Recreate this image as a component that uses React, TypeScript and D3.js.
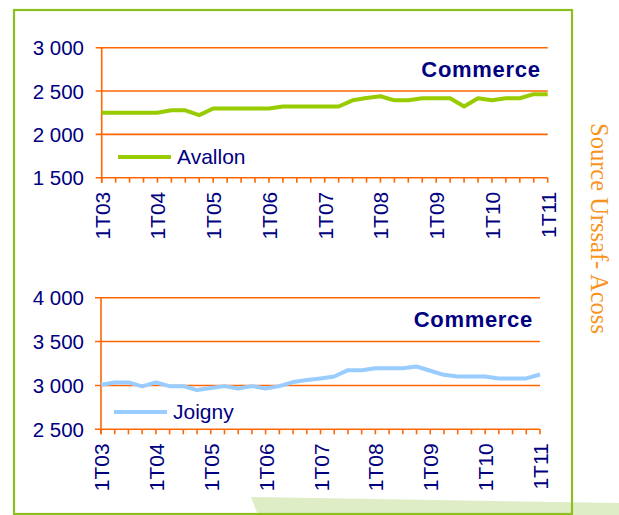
import React from "react";
import * as d3 from "d3";

const yearLabels = ["1T03", "1T04", "1T05", "1T06", "1T07", "1T08", "1T09", "1T10", "1T11"];
const quarterCount = 33;

const avallon = [
  2250, 2250, 2250, 2250, 2250, 2278, 2278, 2222, 2298, 2298, 2298, 2298, 2298,
  2321, 2321, 2321, 2321, 2321, 2393, 2420, 2440, 2393, 2393, 2417, 2417, 2417,
  2321, 2417, 2393, 2417, 2417, 2464, 2464,
];
const joigny = [
  3008, 3034, 3034, 2989, 3034, 2992, 2992, 2947, 2970, 2992, 2966, 2992, 2966,
  2992, 3038, 3061, 3080, 3102, 3174, 3174, 3197, 3197, 3197, 3216, 3167, 3121,
  3102, 3102, 3102, 3080, 3080, 3080, 3125,
];
const avallonTicks = [1500, 2000, 2500, 3000];
const joignyTicks = [2500, 3000, 3500, 4000];

const ORANGE = "#ff6600";
const NAVY = "#000080";
const fmt = (v: number) => d3.format(",")(v).replace(",", " ");

type PanelProps = {
  values: number[];
  ticks: number[];
  name: string;
  color: string;
  x0: number;
  x1: number;
  yTop: number;
  yBottom: number;
  legendX: number;
  legendY: number;
};

function Panel({ values, ticks, name, color, x0, x1, yTop, yBottom, legendX, legendY }: PanelProps) {
  const x = d3.scaleLinear().domain([0, quarterCount - 1]).range([x0, x1]);
  const y = d3.scaleLinear().domain([ticks[0], ticks[ticks.length - 1]]).range([yBottom, yTop]);
  const line = d3
    .line<number>()
    .x((_, i) => x(i))
    .y((d) => y(d))
    .curve(d3.curveLinear);
  const q = d3.range(quarterCount);
  return (
    <g>
      {ticks.map((t) => (
        <g key={t}>
          <line x1={x0 - 6} x2={x1} y1={y(t)} y2={y(t)} stroke={ORANGE} strokeWidth={1.6} />
          <text
            x={84}
            y={y(t)}
            textAnchor="end"
            dominantBaseline="central"
            fontFamily="Liberation Sans, Arial, sans-serif"
            fontSize={20.5}
            fill={NAVY}
          >
            {fmt(t)}
          </text>
        </g>
      ))}
      <line x1={x0} x2={x0} y1={yTop} y2={yBottom + 5} stroke={ORANGE} strokeWidth={1.6} />
      {q.map((i) => (
        <line key={i} x1={x(i)} x2={x(i)} y1={yBottom} y2={yBottom + 5} stroke={ORANGE} strokeWidth={1.6} />
      ))}
      {yearLabels.map((lab, k) => (
        <text
          key={lab}
          transform={`translate(${x(k * 4) + 0.5},${yBottom + 14}) rotate(-90)`}
          textAnchor="end"
          dominantBaseline="central"
          fontFamily="Liberation Sans, Arial, sans-serif"
          fontSize={21}
          fill={NAVY}
        >
          {lab}
        </text>
      ))}
      <text
        x={x1 - 7}
        y={yTop + 29}
        textAnchor="end"
        fontFamily="Liberation Sans, Arial, sans-serif"
        fontWeight="bold"
        fontSize={22}
        letterSpacing={0.7}
        fill={NAVY}
      >
        Commerce
      </text>
      <path d={line(values) || ""} fill="none" stroke={color} strokeWidth={4} strokeLinejoin="round" />
      <line x1={legendX} x2={legendX + 53} y1={legendY} y2={legendY} stroke={color} strokeWidth={4} />
      <text
        x={legendX + 59}
        y={legendY + 7}
        fontFamily="Liberation Sans, Arial, sans-serif"
        fontSize={21}
        fill={NAVY}
      >
        {name}
      </text>
    </g>
  );
}

export default function App() {
  return (
    <svg
      width={619}
      height={515}
      style={{ position: "absolute", left: 0, top: 0, background: "#ffffff" }}
    >
      <polygon points="251,497 619,503 619,515 258,515" fill="#dfedc6" />
      <rect x={14} y={10} width={558} height={504} fill="none" stroke="#8cc01e" strokeWidth={2.2} />
      <Panel
        values={avallon}
        ticks={avallonTicks}
        name="Avallon"
        color="#99cc00"
        x0={101.7}
        x1={547.7}
        yTop={47.7}
        yBottom={177.7}
        legendX={118}
        legendY={157}
      />
      <Panel
        values={joigny}
        ticks={joignyTicks}
        name="Joigny"
        color="#99ccff"
        x0={101}
        x1={540}
        yTop={297.7}
        yBottom={429.3}
        legendX={114}
        legendY={412}
      />
      <text
        transform="translate(591,123) rotate(90)"
        fontFamily="Liberation Serif, Times New Roman, serif"
        fontSize={24.5}
        fill="#f7931e"
      >
        Source Urssaf- Acoss
      </text>
    </svg>
  );
}
